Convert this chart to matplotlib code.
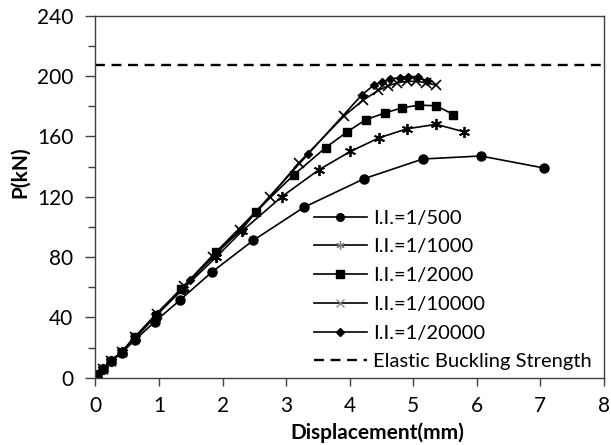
import matplotlib.pyplot as plt

plt.rcParams['font.family'] = ['Lato', 'DejaVu Sans']

# I.I.=1/500
x500 = [0.03, 0.12, 0.25, 0.41, 0.62, 0.93, 1.33, 1.83, 2.48, 3.28, 4.23, 5.15, 6.06, 7.06]
y500 = [1.5, 5.5, 11, 16.5, 25, 37, 51.5, 70, 91, 113, 132, 145, 147, 139]

# I.I.=1/1000
x1000 = [0.03, 0.12, 0.25, 0.41, 0.62, 0.95, 1.38, 1.9, 2.3, 2.93, 3.52, 4.01, 4.46, 4.9, 5.36, 5.8]
y1000 = [1.5, 6, 11, 17, 26, 41, 59, 80, 97, 120, 138, 150, 159, 165, 168, 163]

# I.I.=1/2000
x2000 = [0.03, 0.12, 0.25, 0.41, 0.62, 0.95, 1.35, 1.9, 2.52, 3.12, 3.62, 3.96, 4.25, 4.55, 4.83, 5.09, 5.36, 5.63]
y2000 = [1.5, 6, 11, 17, 27, 41, 59, 83.5, 110, 134.5, 152.5, 163, 171, 175.5, 179, 180.7, 180.3, 174.5]

# I.I.=1/10000
x10000 = [0.03, 0.12, 0.25, 0.41, 0.62, 0.96, 1.4, 1.85, 2.27, 2.75, 3.2, 3.91, 4.21, 4.45, 4.6, 4.75, 4.9, 5.05, 5.2, 5.36]
y10000 = [1.5, 6, 11, 17, 27, 42.5, 61, 80, 98, 120, 142.5, 173.5, 184, 190.5, 193.5, 195.5, 196.5, 196.5, 195.5, 194]

# I.I.=1/20000
x20000 = [0.03, 0.12, 0.25, 0.41, 0.62, 0.96, 1.49, 1.9, 2.3, 2.52, 3.35, 4.19, 4.38, 4.5, 4.63, 4.79, 4.92, 5.07, 5.22]
y20000 = [1.5, 6, 11, 17, 27, 42, 65, 83.5, 98, 110, 148.5, 187.5, 194, 196, 198, 199, 199.6, 199.6, 196.7]

elastic = 207.5

asterisk = (6, 2, 0)

fig = plt.figure(figsize=(6.11, 4.45), dpi=100)
ax = fig.add_axes([0.1563, 0.1512, 0.8322, 0.8135])

ax.plot(x500, y500, color='black', lw=1.2, marker='o', ms=6.5, label='I.I.=1/500')
ax.plot(x1000, y1000, color='black', lw=1.2, marker=asterisk, ms=8, mew=1.3, label='I.I.=1/1000')
ax.plot(x2000, y2000, color='black', lw=1.2, marker='s', ms=6.3, label='I.I.=1/2000')
ax.plot(x10000, y10000, color='black', lw=1.2, marker='x', ms=7, mew=1.2, label='I.I.=1/10000')
ax.plot(x20000, y20000, color='black', lw=1.2, marker='D', ms=4.5, label='I.I.=1/20000')
ax.axhline(elastic, color='black', lw=1.7, dashes=(4.2, 2.8), label='Elastic Buckling Strength')

ax.set_xlim(0, 8)
ax.set_ylim(0, 240)
ax.set_xticks(range(0, 9))
ax.set_yticks(range(0, 241, 40))
ax.set_yticks(range(20, 240, 40), minor=True)

for s in ax.spines.values():
    s.set_color('#404040')
    s.set_linewidth(1.0)

ax.tick_params(axis='both', which='major', direction='out', length=7, width=1,
               color='#404040', labelsize=15)
ax.tick_params(axis='y', which='minor', direction='out', length=5, width=1, color='#404040')
ax.tick_params(axis='y', which='major', pad=9)
ax.tick_params(axis='x', which='major', length=6, pad=7)

ax.set_xlabel('Displacement(mm)', fontsize=15, fontweight='bold', va='center')
ax.set_ylabel('P(kN)', fontsize=15, fontweight='bold', va='center')
ax.xaxis.set_label_coords(0.554, -0.152)
ax.yaxis.set_label_coords(-0.148, 0.568)

leg = ax.legend(loc='lower right', bbox_to_anchor=(0.976, 0.02), frameon=False,
                fontsize=14.5, handlelength=2.6, handletextpad=0.32, labelspacing=0.58,
                borderaxespad=0, borderpad=0)
for i in (1, 3):
    h = leg.legend_handles[i]
    h.set_markeredgecolor('gray')
    h.set_markersize(6)
    h.set_markeredgewidth(0.9)
leg.legend_handles[0].set_markersize(5.5)
leg.legend_handles[2].set_markersize(5.5)

fig.savefig('out.png', dpi=100)
